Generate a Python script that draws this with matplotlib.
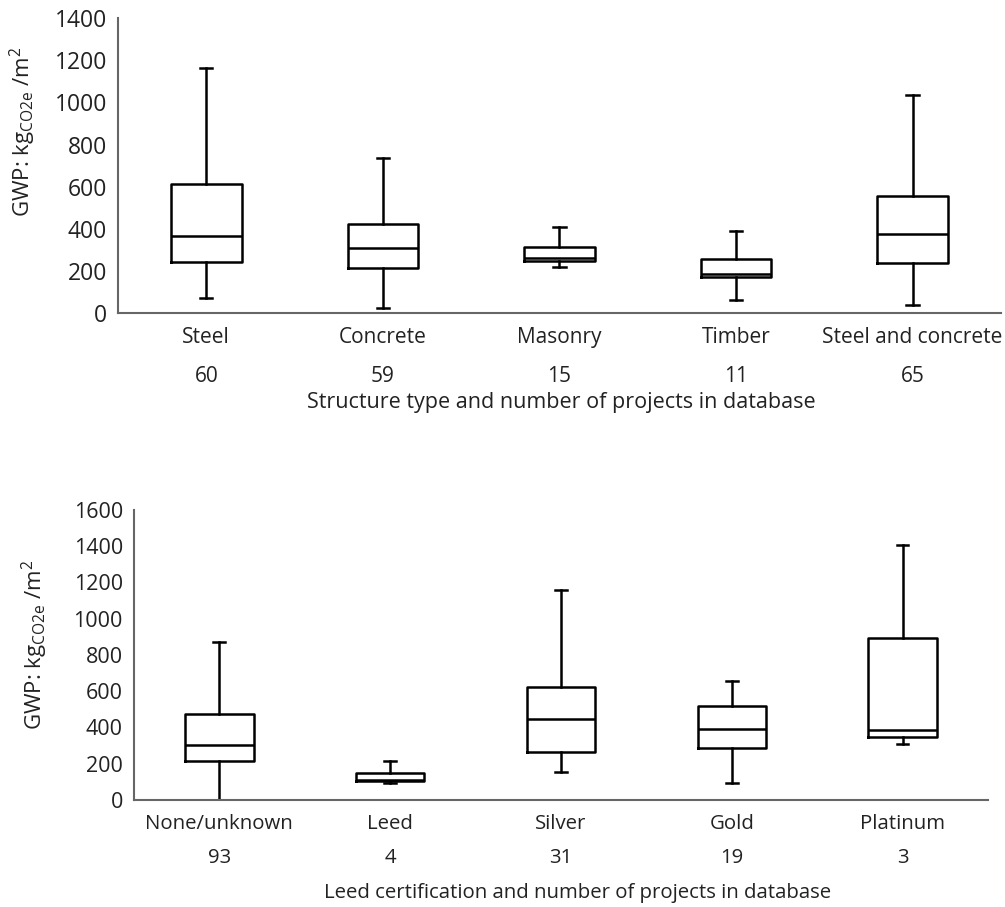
import matplotlib
matplotlib.use("Agg")
import matplotlib.pyplot as plt
import matplotlib.transforms as mtransforms

plt.rcParams['font.family'] = ['Open Sans', 'DejaVu Sans']

# top panel: structure type
struct_names = ['Steel', 'Concrete', 'Masonry', 'Timber', 'Steel and concrete']
struct_counts = [60, 59, 15, 11, 65]
struct_whislo = [75, 27, 222, 64, 40]
struct_q1 = [243, 216, 250, 174, 240]
struct_med = [367, 309, 262, 187, 375]
struct_q3 = [612, 424, 314, 260, 557]
struct_whishi = [1165, 738, 408, 392, 1035]

# bottom panel: leed certification
leed_names = ['None/unknown', 'Leed', 'Silver', 'Gold', 'Platinum']
leed_counts = [93, 4, 31, 19, 3]
leed_whislo = [0, 92, 156, 92, 307]
leed_q1 = [215, 105, 267, 289, 346]
leed_med = [303, 110, 449, 390, 386]
leed_q3 = [474, 147, 622, 519, 894]
leed_whishi = [870, 215, 1159, 655, 1407]

YLABEL = 'GWP: kg$_{\\mathregular{CO2e}}$ /m$^{\\mathregular{2}}$'
TXT = '#222222'


def make_stats(names, lo, q1, med, q3, hi):
    stats = []
    for i in range(len(names)):
        stats.append({'label': names[i], 'whislo': lo[i], 'q1': q1[i], 'med': med[i],
                      'q3': q3[i], 'whishi': hi[i], 'fliers': []})
    return stats


def draw_panel(ax, names, counts, stats, ymax, fs_cat, fs_y, count_y):
    pos = list(range(1, len(names) + 1))
    lp = dict(color='black', linewidth=1.8)
    ax.bxp(stats, positions=pos, widths=0.4, capwidths=0.07, showfliers=False,
           boxprops=lp, medianprops=lp, whiskerprops=lp, capprops=lp)
    ax.set_xlim(0.5, len(names) + 0.5)
    ax.set_ylim(0, ymax)
    ax.set_yticks(range(0, ymax + 1, 200))
    ax.set_xticks(pos)
    ax.set_xticklabels(names, fontsize=fs_cat)
    ax.tick_params(axis='both', length=0, colors=TXT)
    ax.tick_params(axis='y', labelsize=fs_y, pad=8)
    ax.tick_params(axis='x', pad=10)
    for s in ['top', 'right']:
        ax.spines[s].set_visible(False)
    for s in ['left', 'bottom']:
        ax.spines[s].set_color('#666666')
        ax.spines[s].set_linewidth(1.5)
    trans = mtransforms.blended_transform_factory(ax.transData, ax.transAxes)
    for p, c in zip(pos, counts):
        ax.text(p, count_y, str(c), transform=trans, ha='center', va='center',
                fontsize=fs_cat, color=TXT)
    ax.set_ylabel(YLABEL, fontsize=16, color=TXT)


fig = plt.figure(figsize=(10.05, 9.07), dpi=100)

ax1 = fig.add_axes([0.1174, 0.6544, 0.8786, 0.3257])
draw_panel(ax1, struct_names, struct_counts,
           make_stats(struct_names, struct_whislo, struct_q1, struct_med, struct_q3, struct_whishi),
           1400, 15, 16.5, -0.215)
ax1.yaxis.set_label_coords(-0.091, 0.614)
ax1.text(0.502, -0.3, 'Structure type and number of projects in database', transform=ax1.transAxes,
         ha='center', va='center', fontsize=15.5, color=TXT)

ax2 = fig.add_axes([0.1333, 0.118, 0.8497, 0.3197])
draw_panel(ax2, leed_names, leed_counts,
           make_stats(leed_names, leed_whislo, leed_q1, leed_med, leed_q3, leed_whishi),
           1600, 14.7, 15.5, -0.2)
ax2.yaxis.set_label_coords(-0.098, 0.534)
ax2.text(0.519, -0.32, 'Leed certification and number of projects in database', transform=ax2.transAxes,
         ha='center', va='center', fontsize=14.7, color=TXT)

fig.savefig('out.png', dpi=100, facecolor='white')
